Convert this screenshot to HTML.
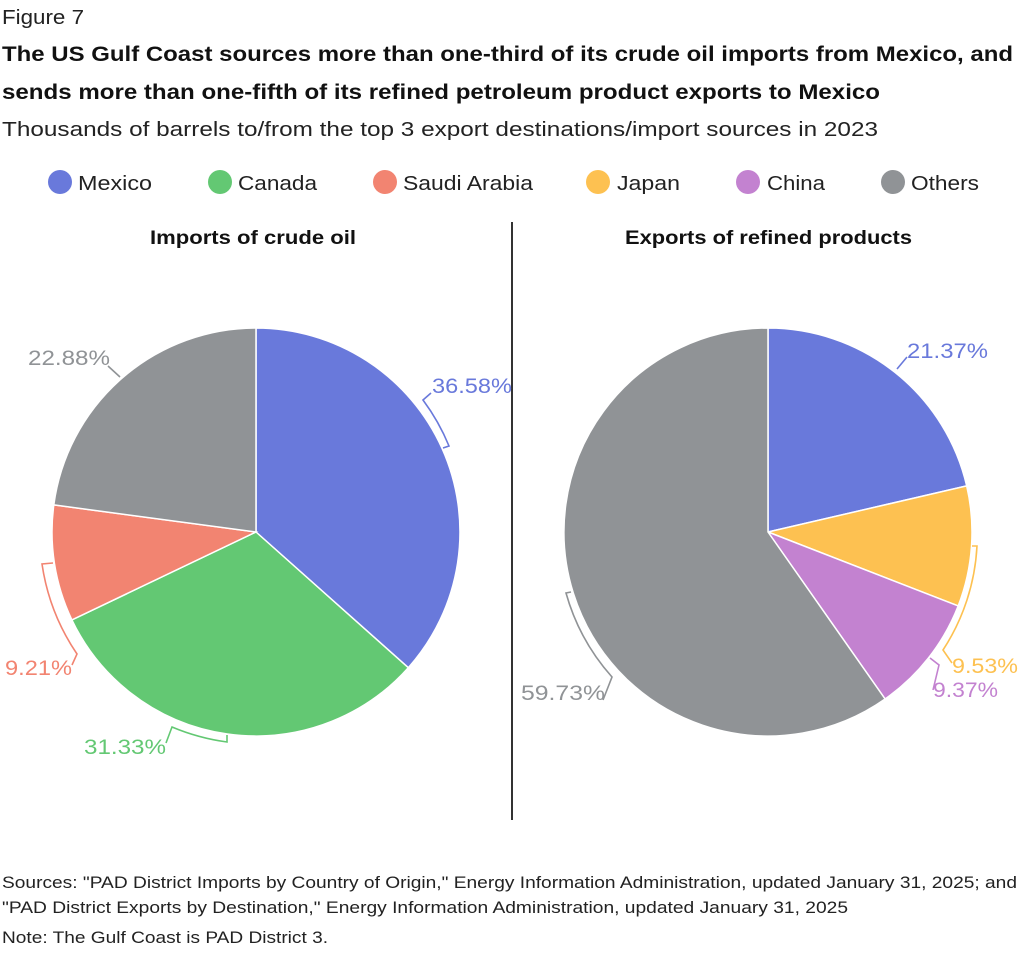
<!DOCTYPE html>
<html><head><meta charset="utf-8"><style>
html,body{margin:0;padding:0;background:#fff}
svg{display:block}
text{font-family:"Liberation Sans",sans-serif}
</style></head><body>
<svg width="1024" height="965" viewBox="0 0 1024 965" xmlns="http://www.w3.org/2000/svg">
<text x="2" y="24" font-size="20" fill="#222" textLength="82" lengthAdjust="spacingAndGlyphs">Figure 7</text>
<text x="2" y="61" font-size="21" font-weight="bold" fill="#111" textLength="1011" lengthAdjust="spacingAndGlyphs">The US Gulf Coast sources more than one-third of its crude oil imports from Mexico, and</text>
<text x="2" y="99" font-size="21" font-weight="bold" fill="#111" textLength="878" lengthAdjust="spacingAndGlyphs">sends more than one-fifth of its refined petroleum product exports to Mexico</text>
<text x="2" y="136" font-size="20" fill="#222" textLength="876" lengthAdjust="spacingAndGlyphs">Thousands of barrels to/from the top 3 export destinations/import sources in 2023</text>

<g font-size="20" fill="#222">
<circle cx="60" cy="182" r="12" fill="#6979db"/><text x="78" y="190" textLength="74" lengthAdjust="spacingAndGlyphs">Mexico</text>
<circle cx="220" cy="182" r="12" fill="#63c873"/><text x="238" y="190" textLength="79" lengthAdjust="spacingAndGlyphs">Canada</text>
<circle cx="385" cy="182" r="12" fill="#f28471"/><text x="403" y="190" textLength="130" lengthAdjust="spacingAndGlyphs">Saudi Arabia</text>
<circle cx="598" cy="182" r="12" fill="#fdc151"/><text x="617" y="190" textLength="63" lengthAdjust="spacingAndGlyphs">Japan</text>
<circle cx="748" cy="182" r="12" fill="#c382d0"/><text x="767" y="190" textLength="58" lengthAdjust="spacingAndGlyphs">China</text>
<circle cx="893" cy="182" r="12" fill="#909396"/><text x="911" y="190" textLength="68" lengthAdjust="spacingAndGlyphs">Others</text>
</g>

<text x="150" y="244" font-size="19" font-weight="bold" fill="#111" textLength="206" lengthAdjust="spacingAndGlyphs">Imports of crude oil</text>
<text x="625" y="244" font-size="19" font-weight="bold" fill="#111" textLength="287" lengthAdjust="spacingAndGlyphs">Exports of refined products</text>
<line x1="512" y1="222" x2="512" y2="820" stroke="#333" stroke-width="2"/>

<g stroke="#fff" stroke-width="1.5">
<path d="M256,532 L256,328 A204,204 0 0 1 408.3,667.7 Z" fill="#6979db"/>
<path d="M256,532 L408.3,667.7 A204,204 0 0 1 71.9,619.9 Z" fill="#63c873"/>
<path d="M256,532 L71.9,619.9 A204,204 0 0 1 53.8,504.9 Z" fill="#f28471"/>
<path d="M256,532 L53.8,504.9 A204,204 0 0 1 256,328 Z" fill="#909396"/>

<path d="M768,532 L768,328 A204,204 0 0 1 966.7,485.9 Z" fill="#6979db"/>
<path d="M768,532 L966.7,485.9 A204,204 0 0 1 958.2,605.9 Z" fill="#fdc151"/>
<path d="M768,532 L958.2,605.9 A204,204 0 0 1 885.1,699.0 Z" fill="#c382d0"/>
<path d="M768,532 L885.1,699.0 A204,204 0 1 1 768,328 Z" fill="#909396"/>
</g>

<g fill="none" stroke-width="1.6">
<path d="M431,393 L423,400 A213,213 0 0 1 449,446 L443,448" stroke="#6979db"/>
<path d="M53,563 L42,564 A216,216 0 0 0 77,654 L72,665" stroke="#f28471"/>
<path d="M166,743 L172,727 A216,216 0 0 0 227,742 L227,735" stroke="#63c873"/>
<path d="M108,366 L120,377" stroke="#909396"/>
<path d="M897,369 L907,357" stroke="#6979db"/>
<path d="M972,546 L977,546 A210,210 0 0 1 943,650 L952,663" stroke="#fdc151"/>
<path d="M930,658 L939,665 L933,690" stroke="#c382d0"/>
<path d="M571,592 L566,593 A212,212 0 0 0 612,677 L603,700" stroke="#909396"/>
</g>

<g font-size="21">
<text x="432" y="393" fill="#6979db" textLength="80" lengthAdjust="spacingAndGlyphs">36.58%</text>
<text x="28" y="365" fill="#909396" textLength="82" lengthAdjust="spacingAndGlyphs">22.88%</text>
<text x="5" y="675" fill="#f28471" textLength="67" lengthAdjust="spacingAndGlyphs">9.21%</text>
<text x="84" y="754" fill="#63c873" textLength="82" lengthAdjust="spacingAndGlyphs">31.33%</text>
<text x="907" y="358" fill="#6979db" textLength="81" lengthAdjust="spacingAndGlyphs">21.37%</text>
<text x="952" y="673" fill="#fdc151" textLength="66" lengthAdjust="spacingAndGlyphs">9.53%</text>
<text x="933" y="697" fill="#c382d0" textLength="65" lengthAdjust="spacingAndGlyphs">9.37%</text>
<text x="521" y="700" fill="#909396" textLength="84" lengthAdjust="spacingAndGlyphs">59.73%</text>
</g>

<g font-size="17" fill="#222">
<text x="2" y="888" textLength="1015" lengthAdjust="spacingAndGlyphs">Sources: "PAD District Imports by Country of Origin," Energy Information Administration, updated January 31, 2025; and</text>
<text x="2" y="913" textLength="846" lengthAdjust="spacingAndGlyphs">"PAD District Exports by Destination," Energy Information Administration, updated January 31, 2025</text>
<text x="2" y="943" textLength="326" lengthAdjust="spacingAndGlyphs">Note: The Gulf Coast is PAD District 3.</text>
</g>
</svg>
</body></html>
